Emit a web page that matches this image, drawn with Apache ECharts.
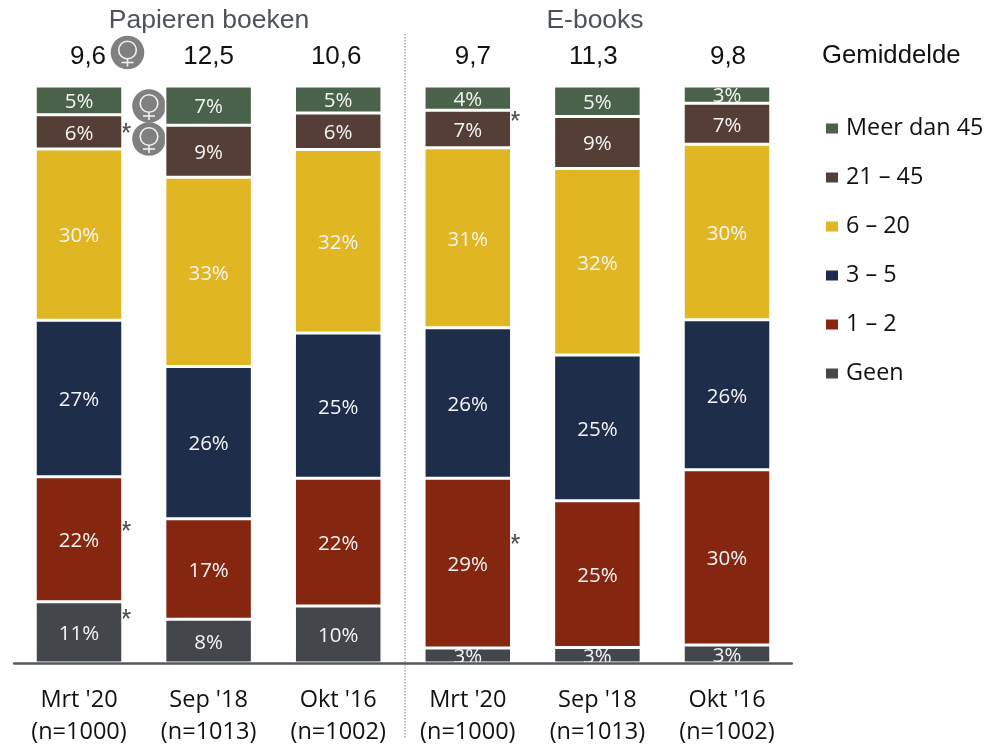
<!DOCTYPE html>
<html><head><meta charset="utf-8">
<style>html,body{margin:0;padding:0;background:#fff}#c{width:987px;height:746px}</style>
<script src="https://cdn.jsdelivr.net/npm/echarts@6/dist/echarts.min.js"></script>
</head><body><div id="c"></div>
<script>
const periods = ["Mrt '20\n(n=1000)","Sep '18\n(n=1013)","Okt '16\n(n=1002)","Mrt '20\n(n=1000)","Sep '18\n(n=1013)","Okt '16\n(n=1002)"];
const means = [9.6,12.5,10.6,9.7,11.3,9.8];
const meanNudge = [9,0,-2,5,-4,1];
const geen   = [10.6,7.6,9.9,2.6,2.7,3.1];
const een    = [21.7,17.4,22.1,29.4,25.4,30.4];
const drie   = [27.1,26.4,25.2,26.1,25.3,26.0];
const zes    = [29.7,32.8,31.8,31.2,32.3,30.4];
const eenen  = [5.9,9.0,6.3,6.5,9.0,7.1];
const meer   = [5.0,6.8,4.7,4.2,5.3,3.0];
const seriesNames = ["Geen","1 – 2","3 – 5","6 – 20","21 – 45","Meer dan 45"];
const seriesValues = [geen,een,drie,zes,eenen,meer];
const colors = ["#43464B","#852610","#1E2D4A","#E0B623","#553E35","#4A6249"];

function venus(cx,cy){
  const s={stroke:'#f0f0f0',lineWidth:1.6,fill:null};
  return {type:'group',children:[
    {type:'circle',shape:{cx,cy,r:16.8},style:{fill:'#808080'}},
    {type:'circle',shape:{cx,cy:cy-2.5,r:8.8},style:s},
    {type:'line',shape:{x1:cx,y1:cy+6.3,x2:cx,y2:cy+14},style:s},
    {type:'line',shape:{x1:cx-6,y1:cy+10,x2:cx+6,y2:cy+10},style:s}
  ]};
}
function star(x,y){return {type:'text',x,y,style:{text:'*',font:'28px "Liberation Sans"',fill:'#4a4f55',textAlign:'center',textVerticalAlign:'middle'}};}
function head(text,x,y,fill){return {type:'text',x,y,style:{text,font:'26.5px "Liberation Sans"',fill,textAlign:'center',textVerticalAlign:'middle'}};}

const chart = echarts.init(document.getElementById('c'),null,{renderer:'canvas'});
chart.setOption({
  animation:false,
  grid:{left:14.2,top:86,width:777.6,height:577,outerBoundsMode:'none'},
  xAxis:{type:'category',data:periods,z:5,axisTick:{show:false},
    axisLine:{lineStyle:{color:'#55585c',width:2.5}},
    axisLabel:{interval:0,margin:21,fontFamily:'Open Sans',fontSize:23.5,lineHeight:32,color:'#111'}},
  yAxis:{type:'value',min:0,max:100,show:false},
  legend:{data:seriesNames.slice().reverse(),orient:'vertical',left:819,top:112,itemWidth:14,itemHeight:12,itemGap:26,
    icon:'rect',textStyle:{fontFamily:'Open Sans',fontSize:23.4,color:'#111',padding:[0,0,0,2],lineHeight:22}},
  series:seriesNames.map((name,i)=>({
    name,type:'bar',stack:'a',barWidth:87.5,data:seriesValues[i],
    itemStyle:{color:colors[i],borderColor:'#fff',borderWidth:1.5},
    label:{show:true,position:'inside',offset:[0,2],fontFamily:'Open Sans',fontSize:20.5,color:'#f4f4f4',
      formatter:p=>Math.round(p.value)+'%'}
  })).concat([{
    name:'Gemiddelde',type:'scatter',clip:false,symbolSize:0,silent:true,itemStyle:{opacity:1},
    data:means.map((m,i)=>({value:[i,100],
      label:{show:true,position:'inside',offset:[meanNudge[i],-29],formatter:m.toFixed(1).replace('.',','),
        fontFamily:'Liberation Sans',fontSize:26,color:'#111'}}))
  }]),
  graphic:[
    {type:'line',shape:{x1:405,y1:34,x2:405,y2:738},style:{stroke:'#777',lineWidth:1,lineDash:[1.5,1.5]}},
    head('Papieren boeken',209,21,'#4d5358'),
    head('E-books',595,21,'#4d5358'),
    {type:'text',x:822,y:56,style:{text:'Gemiddelde',font:'25.7px "Liberation Sans"',fill:'#111',textVerticalAlign:'middle'}},
    venus(127.5,52.5),venus(149,106),venus(149,139),
    star(126,134),star(126,532),star(126,620),star(515,122),star(515,545)
  ]
});
</script></body></html>
